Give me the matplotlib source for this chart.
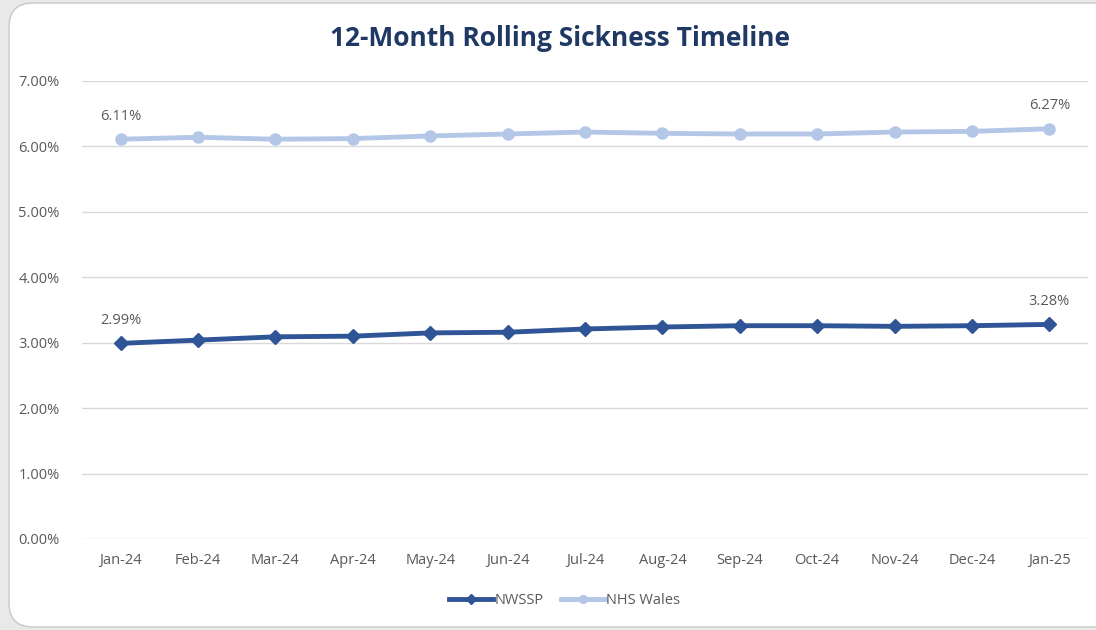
import matplotlib.pyplot as plt
from matplotlib.patches import FancyBboxPatch
from matplotlib.ticker import FuncFormatter

# Datos
months = ["Jan-24", "Feb-24", "Mar-24", "Apr-24", "May-24", "Jun-24", "Jul-24",
          "Aug-24", "Sep-24", "Oct-24", "Nov-24", "Dec-24", "Jan-25"]
nwssp = [2.99, 3.04, 3.09, 3.10, 3.15, 3.16, 3.21, 3.24, 3.26, 3.26, 3.25, 3.26, 3.28]
nhs_wales = [6.11, 6.14, 6.11, 6.12, 6.16, 6.19, 6.22, 6.20, 6.19, 6.19, 6.22, 6.23, 6.27]

plt.rcParams['font.family'] = ['Open Sans', 'DejaVu Sans']
grey = "#595959"

fig = plt.figure(figsize=(10.96, 6.30), dpi=100)
fig.patch.set_facecolor("#e9e9e9")

# Tarjeta blanca con esquinas redondeadas
W, H = 1096, 630
card = FancyBboxPatch((9 / W, 3 / H), 1.2, 624 / H,
                      boxstyle="round,pad=0,rounding_size=0.022",
                      transform=fig.transFigure, facecolor="white",
                      edgecolor="#c8c8c8", linewidth=1, mutation_aspect=W / H,
                      zorder=-10)
fig.patches.append(card)

ax = fig.add_axes([82 / W, 1 - 539 / H, (1088 - 82) / W, (539 - 81) / H])
ax.set_facecolor("none")
ax.set_zorder(5)

x = list(range(len(months)))
ax.plot(x, nhs_wales, color="#b4c7e7", linewidth=3.5, marker="o", markersize=8,
        label="NHS Wales", zorder=3)
ax.plot(x, nwssp, color="#2f5597", linewidth=3.5, marker="D", markersize=7,
        label="NWSSP", zorder=4)

ax.set_xlim(-0.5, len(months) - 0.5)
ax.set_ylim(0, 7)
ax.set_yticks(range(0, 8))
ax.yaxis.set_major_formatter(FuncFormatter(lambda v, p: f"{v:.2f}%"))
ax.set_xticks(x)
ax.set_xticklabels(months)
ax.tick_params(length=0, colors=grey, labelsize=10.5)
ax.tick_params(axis="x", pad=10)
ax.tick_params(axis="y", pad=16)
ax.grid(axis="y", color="#d9d9d9", linewidth=1)
ax.set_axisbelow(True)
for s in ax.spines.values():
    s.set_visible(False)

# Etiquetas de datos (primero y último)
for i in (0, len(months) - 1):
    ax.annotate(f"{nwssp[i]:.2f}%", (i, nwssp[i]), xytext=(0, 14),
                textcoords="offset points", ha="center", color=grey, fontsize=10.5)
    ax.annotate(f"{nhs_wales[i]:.2f}%", (i, nhs_wales[i]), xytext=(0, 14),
                textcoords="offset points", ha="center", color=grey, fontsize=10.5)

fig.text(0.511, 1 - 39 / H, "12-Month Rolling Sickness Timeline", ha="center",
         va="center", fontsize=19, fontweight="bold", color="#1f3864")

handles, labels = ax.get_legend_handles_labels()
leg = fig.legend(handles[::-1], labels[::-1], loc="center", ncol=2,
                 bbox_to_anchor=(0.515, 1 - 601 / H), frameon=False,
                 fontsize=10.5, handlelength=3, columnspacing=1.2, handletextpad=0.1,
                 markerscale=0.7)
for t in leg.get_texts():
    t.set_color(grey)

fig.savefig("out.png", dpi=100, facecolor=fig.get_facecolor())
plt.close()
